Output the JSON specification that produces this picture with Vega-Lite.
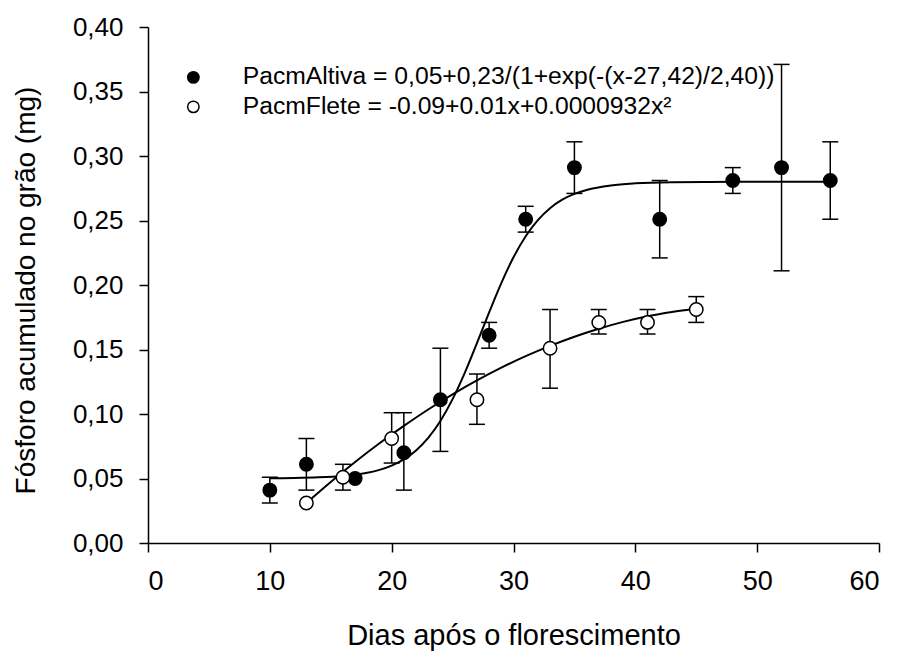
{
  "$schema": "https://vega.github.io/schema/vega-lite/v6.json",
  "autosize": "none",
  "width": 731,
  "height": 516,
  "padding": {"left": 148, "top": 27, "right": 20, "bottom": 111},
  "background": "white",
  "config": {
    "view": {"stroke": null},
    "font": "Liberation Sans",
    "axis": {"grid": false, "domainColor": "black", "domainWidth": 1.5, "tickColor": "black", "tickWidth": 1.5, "tickSize": 9, "labelColor": "black", "titleColor": "black", "labelFont": "Liberation Sans", "titleFont": "Liberation Sans", "titleFontWeight": "normal"}
  },
  "datasets": {
    "obs": [
      {"serie": "PacmAltiva = 0,05+0,23/(1+exp(-(x-27,42)/2,40))", "dias": 10, "media": 0.041, "min": 0.031, "max": 0.051},
      {"serie": "PacmAltiva = 0,05+0,23/(1+exp(-(x-27,42)/2,40))", "dias": 13, "media": 0.061, "min": 0.041, "max": 0.081},
      {"serie": "PacmAltiva = 0,05+0,23/(1+exp(-(x-27,42)/2,40))", "dias": 17, "media": 0.05, "min": null, "max": null},
      {"serie": "PacmAltiva = 0,05+0,23/(1+exp(-(x-27,42)/2,40))", "dias": 21, "media": 0.07, "min": 0.041, "max": 0.101},
      {"serie": "PacmAltiva = 0,05+0,23/(1+exp(-(x-27,42)/2,40))", "dias": 24, "media": 0.111, "min": 0.071, "max": 0.151},
      {"serie": "PacmAltiva = 0,05+0,23/(1+exp(-(x-27,42)/2,40))", "dias": 28, "media": 0.161, "min": 0.151, "max": 0.171},
      {"serie": "PacmAltiva = 0,05+0,23/(1+exp(-(x-27,42)/2,40))", "dias": 31, "media": 0.251, "min": 0.241, "max": 0.261},
      {"serie": "PacmAltiva = 0,05+0,23/(1+exp(-(x-27,42)/2,40))", "dias": 35, "media": 0.291, "min": 0.271, "max": 0.311},
      {"serie": "PacmAltiva = 0,05+0,23/(1+exp(-(x-27,42)/2,40))", "dias": 42, "media": 0.251, "min": 0.221, "max": 0.281},
      {"serie": "PacmAltiva = 0,05+0,23/(1+exp(-(x-27,42)/2,40))", "dias": 48, "media": 0.281, "min": 0.271, "max": 0.291},
      {"serie": "PacmAltiva = 0,05+0,23/(1+exp(-(x-27,42)/2,40))", "dias": 52, "media": 0.291, "min": 0.211, "max": 0.371},
      {"serie": "PacmAltiva = 0,05+0,23/(1+exp(-(x-27,42)/2,40))", "dias": 56, "media": 0.281, "min": 0.251, "max": 0.311},
      {"serie": "PacmFlete = -0.09+0.01x+0.0000932x²", "dias": 13, "media": 0.031, "min": null, "max": null},
      {"serie": "PacmFlete = -0.09+0.01x+0.0000932x²", "dias": 16, "media": 0.051, "min": 0.041, "max": 0.061},
      {"serie": "PacmFlete = -0.09+0.01x+0.0000932x²", "dias": 20, "media": 0.081, "min": 0.062, "max": 0.101},
      {"serie": "PacmFlete = -0.09+0.01x+0.0000932x²", "dias": 27, "media": 0.111, "min": 0.092, "max": 0.131},
      {"serie": "PacmFlete = -0.09+0.01x+0.0000932x²", "dias": 33, "media": 0.151, "min": 0.12, "max": 0.181},
      {"serie": "PacmFlete = -0.09+0.01x+0.0000932x²", "dias": 37, "media": 0.171, "min": 0.162, "max": 0.181},
      {"serie": "PacmFlete = -0.09+0.01x+0.0000932x²", "dias": 41, "media": 0.171, "min": 0.162, "max": 0.181},
      {"serie": "PacmFlete = -0.09+0.01x+0.0000932x²", "dias": 45, "media": 0.181, "min": 0.171, "max": 0.191}
    ],
    "ajuste": [
      {"serie": "Altiva", "dias": 10, "valor": 0.0502},
      {"serie": "Altiva", "dias": 12, "valor": 0.0504},
      {"serie": "Altiva", "dias": 14, "valor": 0.0509},
      {"serie": "Altiva", "dias": 16, "valor": 0.052},
      {"serie": "Altiva", "dias": 17, "valor": 0.053},
      {"serie": "Altiva", "dias": 18, "valor": 0.0545},
      {"serie": "Altiva", "dias": 19, "valor": 0.0567},
      {"serie": "Altiva", "dias": 20, "valor": 0.06},
      {"serie": "Altiva", "dias": 21, "valor": 0.0648},
      {"serie": "Altiva", "dias": 22, "valor": 0.0718},
      {"serie": "Altiva", "dias": 23, "valor": 0.0815},
      {"serie": "Altiva", "dias": 24, "valor": 0.0946},
      {"serie": "Altiva", "dias": 25, "valor": 0.1115},
      {"serie": "Altiva", "dias": 26, "valor": 0.1319},
      {"serie": "Altiva", "dias": 27, "valor": 0.155},
      {"serie": "Altiva", "dias": 28, "valor": 0.1788},
      {"serie": "Altiva", "dias": 29, "valor": 0.2015},
      {"serie": "Altiva", "dias": 30, "valor": 0.2215},
      {"serie": "Altiva", "dias": 31, "valor": 0.2378},
      {"serie": "Altiva", "dias": 32, "valor": 0.2503},
      {"serie": "Altiva", "dias": 33, "valor": 0.2595},
      {"serie": "Altiva", "dias": 34, "valor": 0.2661},
      {"serie": "Altiva", "dias": 35, "valor": 0.2706},
      {"serie": "Altiva", "dias": 36, "valor": 0.2737},
      {"serie": "Altiva", "dias": 38, "valor": 0.2772},
      {"serie": "Altiva", "dias": 40, "valor": 0.2788},
      {"serie": "Altiva", "dias": 43, "valor": 0.2797},
      {"serie": "Altiva", "dias": 46, "valor": 0.2799},
      {"serie": "Altiva", "dias": 50, "valor": 0.28},
      {"serie": "Altiva", "dias": 56, "valor": 0.28},
      {"serie": "Flete", "dias": 13, "valor": 0.031},
      {"serie": "Flete", "dias": 15, "valor": 0.0473},
      {"serie": "Flete", "dias": 17, "valor": 0.0628},
      {"serie": "Flete", "dias": 19, "valor": 0.0773},
      {"serie": "Flete", "dias": 21, "valor": 0.0908},
      {"serie": "Flete", "dias": 23, "valor": 0.1035},
      {"serie": "Flete", "dias": 25, "valor": 0.1152},
      {"serie": "Flete", "dias": 27, "valor": 0.126},
      {"serie": "Flete", "dias": 29, "valor": 0.1359},
      {"serie": "Flete", "dias": 31, "valor": 0.1448},
      {"serie": "Flete", "dias": 33, "valor": 0.1528},
      {"serie": "Flete", "dias": 35, "valor": 0.1599},
      {"serie": "Flete", "dias": 37, "valor": 0.1661},
      {"serie": "Flete", "dias": 39, "valor": 0.1714},
      {"serie": "Flete", "dias": 41, "valor": 0.1758},
      {"serie": "Flete", "dias": 43, "valor": 0.1791},
      {"serie": "Flete", "dias": 45, "valor": 0.1816}
    ]
  },
  "encoding": {
    "x": {
      "field": "dias", "type": "quantitative",
      "scale": {"domain": [0, 60], "nice": false, "zero": false},
      "axis": {"values": [0, 10, 20, 30, 40, 50, 60], "title": "Dias após o florescimento", "labelFontSize": 27, "labelPadding": 16, "titleFontSize": 29, "titleBaseline": "alphabetic", "titleY": 101}
    }
  },
  "layer": [
    {
      "data": {"name": "obs"},
      "mark": {"type": "rule", "color": "black", "strokeWidth": 1.5},
      "encoding": {
        "y": {"field": "min", "type": "quantitative"},
        "y2": {"field": "max"}
      }
    },
    {
      "data": {"name": "obs"},
      "mark": {"type": "tick", "orient": "horizontal", "color": "black", "size": 16, "thickness": 1.5, "opacity": 1},
      "encoding": {"y": {"field": "min", "type": "quantitative"}}
    },
    {
      "data": {"name": "obs"},
      "mark": {"type": "tick", "orient": "horizontal", "color": "black", "size": 16, "thickness": 1.5, "opacity": 1},
      "encoding": {"y": {"field": "max", "type": "quantitative"}}
    },
    {
      "data": {"name": "ajuste"},
      "mark": {"type": "line", "color": "black", "strokeWidth": 2, "interpolate": "monotone"},
      "encoding": {
        "y": {"field": "valor", "type": "quantitative"},
        "detail": {"field": "serie"}
      }
    },
    {
      "data": {"name": "obs"},
      "mark": {"type": "point", "filled": true, "stroke": "black", "strokeWidth": 1.5, "size": 180, "opacity": 1, "shape": "circle"},
      "encoding": {
        "y": {
          "field": "media", "type": "quantitative",
          "scale": {"domain": [0, 0.4], "nice": false},
          "axis": {"values": [0, 0.05, 0.1, 0.15, 0.2, 0.25, 0.3, 0.35, 0.4], "labelExpr": "replace(format(datum.value, '.2f'), '.', ',')", "title": "Fósforo acumulado no grão (mg)", "labelFontSize": 26, "labelPadding": 16, "titleFontSize": 28, "titleBaseline": "alphabetic", "titleX": -114, "titleY": 263}
        },
        "fill": {
          "field": "serie", "type": "nominal",
          "scale": {"domain": ["PacmAltiva = 0,05+0,23/(1+exp(-(x-27,42)/2,40))", "PacmFlete = -0.09+0.01x+0.0000932x²"], "range": ["black", "white"]},
          "legend": {"title": null, "orient": "none", "legendX": 33, "legendY": 38, "padding": 0, "symbolType": "circle", "symbolSize": 130, "symbolStrokeColor": "black", "symbolStrokeWidth": 1.5, "symbolOpacity": 1, "labelFontSize": 24.7, "labelFont": "Liberation Sans", "labelColor": "black", "labelLimit": 1000, "labelOffset": 37, "rowPadding": 3.5}
        }
      }
    }
  ]
}
